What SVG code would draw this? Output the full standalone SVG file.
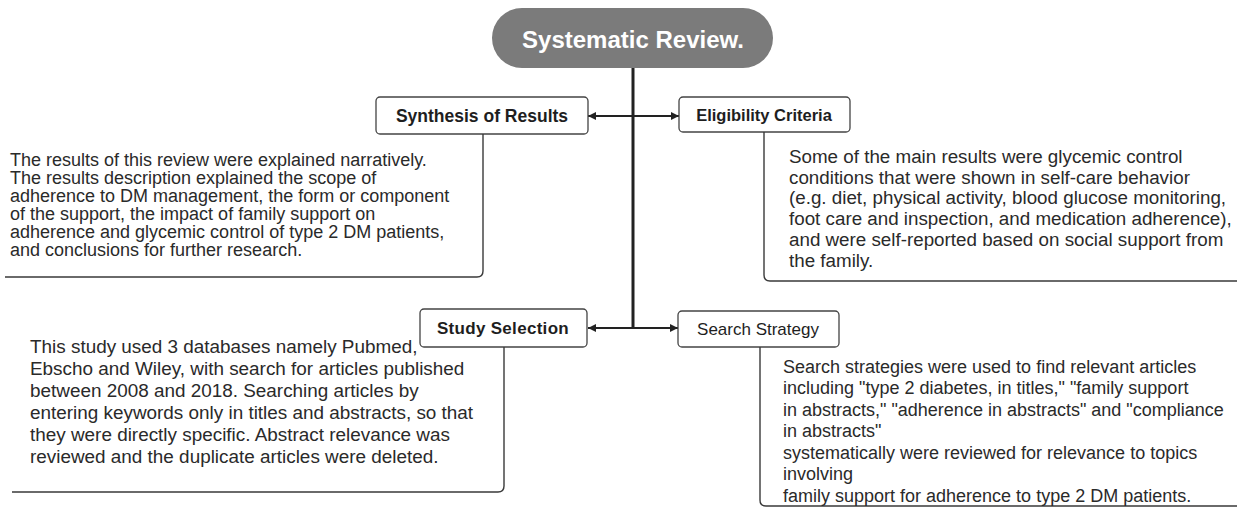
<svg xmlns="http://www.w3.org/2000/svg" width="1237" height="511" viewBox="0 0 1237 511">
<defs>
<marker id="ah" viewBox="0 0 10 10" refX="10" refY="5" markerWidth="8" markerHeight="8" markerUnits="userSpaceOnUse" orient="auto-start-reverse">
<path d="M0,0 L10,5 L0,10 z" fill="#222"/>
</marker>
<style>
.box{fill:#fff;stroke:#444;stroke-width:1.3}
.lbl{font-family:"Liberation Sans",Arial,sans-serif;fill:#1e1e1e;text-anchor:middle}
.body{font-family:"Liberation Sans",Arial,sans-serif;fill:#2a2a2a}
.brk{fill:none;stroke:#3a3a3a;stroke-width:1.4}
.trunk{fill:none;stroke:#222;stroke-width:3}
.arr{fill:none;stroke:#222;stroke-width:2.2}
</style>
</defs>
<rect width="1237" height="511" fill="#fff"/>
<g id="connectors">
<path class="trunk" d="M633 68 V328"/>
<path class="arr" d="M588 116 H679" marker-start="url(#ah)" marker-end="url(#ah)"/>
<path class="arr" d="M588 328 H678" marker-start="url(#ah)" marker-end="url(#ah)"/>
</g>
<g id="title">
<rect x="492" y="8" width="281" height="60" rx="30" fill="#7b7b7b"/>
<text x="633" y="48" font-family="Liberation Sans,Arial,sans-serif" font-weight="bold" font-size="24" fill="#fff" text-anchor="middle">Systematic Review.</text>
</g>
<g id="synthesis">
<rect class="box" x="376" y="97" width="212" height="37" rx="4"/>
<text class="lbl" x="482" y="122" font-size="17.5" font-weight="bold">Synthesis of Results</text>
<path class="brk" d="M483 134 V271 Q483 277 477 277 H5"/>
<text class="body" font-size="18">
<tspan x="10" y="166">The results of this review were explained narratively.</tspan>
<tspan x="10" y="184">The results description explained the scope of</tspan>
<tspan x="10" y="202">adherence to DM management, the form or component</tspan>
<tspan x="10" y="220">of the support, the impact of family support on</tspan>
<tspan x="10" y="238">adherence and glycemic control of type 2 DM patients,</tspan>
<tspan x="10" y="256">and conclusions for further research.</tspan>
</text>
</g>
<g id="eligibility">
<rect class="box" x="679" y="97" width="171" height="35" rx="4"/>
<text class="lbl" x="764" y="121" font-size="16.5" font-weight="bold">Eligibility Criteria</text>
<path class="brk" d="M764 132 V275 Q764 281 770 281 H1237"/>
<text class="body" font-size="18.8">
<tspan x="789" y="163">Some of the main results were glycemic control</tspan>
<tspan x="789" y="184">conditions that were shown in self-care behavior</tspan>
<tspan x="789" y="204">(e.g. diet, physical activity, blood glucose monitoring,</tspan>
<tspan x="789" y="225">foot care and inspection, and medication adherence),</tspan>
<tspan x="789" y="246">and were self-reported based on social support from</tspan>
<tspan x="789" y="267">the family.</tspan>
</text>
</g>
<g id="study">
<rect class="box" x="420" y="309" width="167" height="38" rx="4"/>
<text class="lbl" x="503" y="334" font-size="17" font-weight="bold" letter-spacing="0.3">Study Selection</text>
<path class="brk" d="M504 347 V486 Q504 492 498 492 H12"/>
<text class="body" font-size="18.9">
<tspan x="30" y="353">This study used 3 databases namely Pubmed,</tspan>
<tspan x="30" y="375">Ebscho and Wiley, with search for articles published</tspan>
<tspan x="30" y="397">between 2008 and 2018. Searching articles by</tspan>
<tspan x="30" y="419">entering keywords only in titles and abstracts, so that</tspan>
<tspan x="30" y="441">they were directly specific. Abstract relevance was</tspan>
<tspan x="30" y="463">reviewed and the duplicate articles were deleted.</tspan>
</text>
</g>
<g id="search">
<rect class="box" x="678" y="311" width="161" height="36" rx="4"/>
<text class="lbl" x="758" y="335" font-size="17">Search Strategy</text>
<path class="brk" d="M760 347 V500 Q760 506 766 506 H1237"/>
<text class="body" font-size="18">
<tspan x="783" y="373">Search strategies were used to find relevant articles</tspan>
<tspan x="783" y="394">including "type 2 diabetes, in titles," "family support</tspan>
<tspan x="783" y="416">in abstracts," "adherence in abstracts" and "compliance</tspan>
<tspan x="783" y="437">in abstracts"</tspan>
<tspan x="783" y="459">systematically were reviewed for relevance to topics</tspan>
<tspan x="783" y="480">involving</tspan>
<tspan x="783" y="502">family support for adherence to type 2 DM patients.</tspan>
</text>
</g>
</svg>
